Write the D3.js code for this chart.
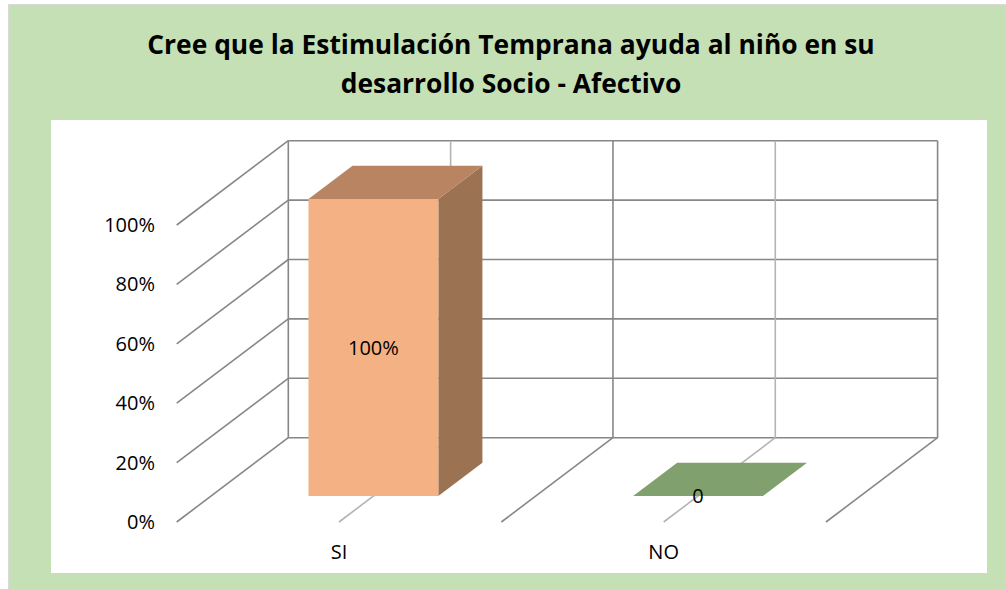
<!DOCTYPE html>
<html>
<head>
<meta charset="utf-8">
<script src="https://cdn.jsdelivr.net/npm/d3@7"></script>
<style>
  html, body { margin: 0; padding: 0; background: #ffffff; }
  svg { display: block; }
</style>
</head>
<body>
<svg id="chart" width="1006" height="589"></svg>
<script>
// ---- data ----
const titleLines = ["Cree que la Estimulación Temprana ayuda al niño en su", "desarrollo Socio - Afectivo"];
const categories = ["SI", "NO"];
const values = [1.0, 0];
const valueLabels = ["100%", "0"];
const yTicks = [0, 0.2, 0.4, 0.6, 0.8, 1.0];

// ---- layout ----
const W = 1006, H = 589;
const svg = d3.select("#chart");
const FONT = "'Open Sans', 'Liberation Sans', sans-serif";

// outer frame
svg.append("rect").attr("x", 8.5).attr("y", 4.5).attr("width", W).attr("height", H)
  .attr("fill", "#c5e0b4").attr("stroke", "#d9d9d9").attr("stroke-width", 1);

// title
svg.append("g").selectAll("text").data(titleLines).join("text")
  .attr("x", 511).attr("y", (d, i) => 54 + i * 39)
  .attr("text-anchor", "middle")
  .attr("font-family", FONT).attr("font-weight", "bold").attr("font-size", 26.4)
  .attr("fill", "#000").text(d => d);

// plot area
svg.append("rect").attr("x", 51).attr("y", 120).attr("width", 936).attr("height", 453).attr("fill", "#ffffff");

// scales (front plane)
const x = d3.scaleBand().domain(categories).range([176.7, 826]).paddingInner(0).paddingOuter(0);
const y = d3.scaleLinear().domain([0, 1]).range([522, 225]);
const DX = 111.6, DY = -84.3; // depth offset from front (d=0) to back wall (d=1)
const P = (px, py, d) => [px + d * DX, py + d * DY];

const dark = "#878787", light = "#b4b4b4";
const grid = svg.append("g").attr("fill", "none");
const x0 = x.range()[0], x1 = x.range()[1];

// back wall horizontal gridlines
yTicks.forEach(t => {
  const a = P(x0, y(t), 1), b = P(x1, y(t), 1);
  grid.append("line").attr("x1", a[0]).attr("y1", a[1]).attr("x2", b[0]).attr("y2", b[1])
    .attr("stroke", dark).attr("stroke-width", 1.6);
});
// back wall verticals (category centers light, boundaries dark)
const vpos = [];
categories.forEach((c, i) => {
  if (i > 0) vpos.push({ xv: x(c), c: dark });
  vpos.push({ xv: x(c) + x.bandwidth() / 2, c: light });
});
vpos.push({ xv: x1, c: dark });
vpos.forEach(v => {
  const a = P(v.xv, y(0), 1), b = P(v.xv, y(1), 1);
  grid.append("line").attr("x1", a[0]).attr("y1", a[1]).attr("x2", b[0]).attr("y2", b[1])
    .attr("stroke", v.c).attr("stroke-width", 1.6);
});
// left wall vertical
{
  const a = P(x0, y(0), 1), b = P(x0, y(1), 1);
  grid.append("line").attr("x1", a[0]).attr("y1", a[1]).attr("x2", b[0]).attr("y2", b[1])
    .attr("stroke", dark).attr("stroke-width", 1.6);
}
// left wall diagonals
yTicks.forEach(t => {
  const a = P(x0, y(t), 0), b = P(x0, y(t), 1);
  grid.append("line").attr("x1", a[0]).attr("y1", a[1]).attr("x2", b[0]).attr("y2", b[1])
    .attr("stroke", dark).attr("stroke-width", 1.6);
});
// floor diagonals
vpos.forEach(v => {
  const a = P(v.xv, y(0), 0), b = P(v.xv, y(0), 1);
  grid.append("line").attr("x1", a[0]).attr("y1", a[1]).attr("x2", b[0]).attr("y2", b[1])
    .attr("stroke", v.c).attr("stroke-width", 1.6);
});

// y tick labels
svg.append("g").selectAll("text").data(yTicks).join("text")
  .attr("x", 155).attr("y", d => y(d)).attr("dy", "0.35em")
  .attr("text-anchor", "end").attr("font-family", FONT).attr("font-size", 20)
  .attr("fill", "#000").text(d3.format(".0%"));

// category labels
svg.append("g").selectAll("text").data(categories).join("text")
  .attr("x", d => x(d) + x.bandwidth() / 2).attr("y", 552).attr("dy", "0.35em")
  .attr("text-anchor", "middle").attr("font-family", FONT).attr("font-size", 20)
  .attr("fill", "#000").text(d => d);

// bars
const barW = x.bandwidth() * 0.4;
const d0 = 0.308, d1 = 0.703;
const styles = [
  { front: "#f4b183", top: "#b98462", side: "#9c7352" },
  { front: "#80a06d", top: "#80a06d", side: "#6d8a5c" }
];
const bars = svg.append("g");
categories.forEach((c, i) => {
  const cx = x(c) + x.bandwidth() / 2;
  const l = cx - barW / 2, r = cx + barW / 2;
  const yb = y(0), yt = y(values[i]);
  const st = styles[i];
  const poly = pts => pts.map(p => p.join(",")).join(" ");
  if (values[i] > 0) {
    bars.append("polygon").attr("points", poly([P(r, yb, d0), P(r, yb, d1), P(r, yt, d1), P(r, yt, d0)]))
      .attr("fill", st.side);
    bars.append("polygon").attr("points", poly([P(l, yt, d0), P(r, yt, d0), P(r, yt, d1), P(l, yt, d1)]))
      .attr("fill", st.top);
    bars.append("polygon").attr("points", poly([P(l, yb, d0), P(r, yb, d0), P(r, yt, d0), P(l, yt, d0)]))
      .attr("fill", st.front);
  } else {
    bars.append("polygon").attr("points", poly([P(l, yb, d0), P(r, yb, d0), P(r, yb, d1), P(l, yb, d1)]))
      .attr("fill", st.top);
  }
  const lp = P(cx, (yb + yt) / 2, d0);
  bars.append("text").attr("x", lp[0]).attr("y", lp[1]).attr("dy", "0.35em")
    .attr("text-anchor", "middle").attr("font-family", FONT).attr("font-size", 20)
    .attr("fill", "#000").text(valueLabels[i]);
});
</script>
</body>
</html>
